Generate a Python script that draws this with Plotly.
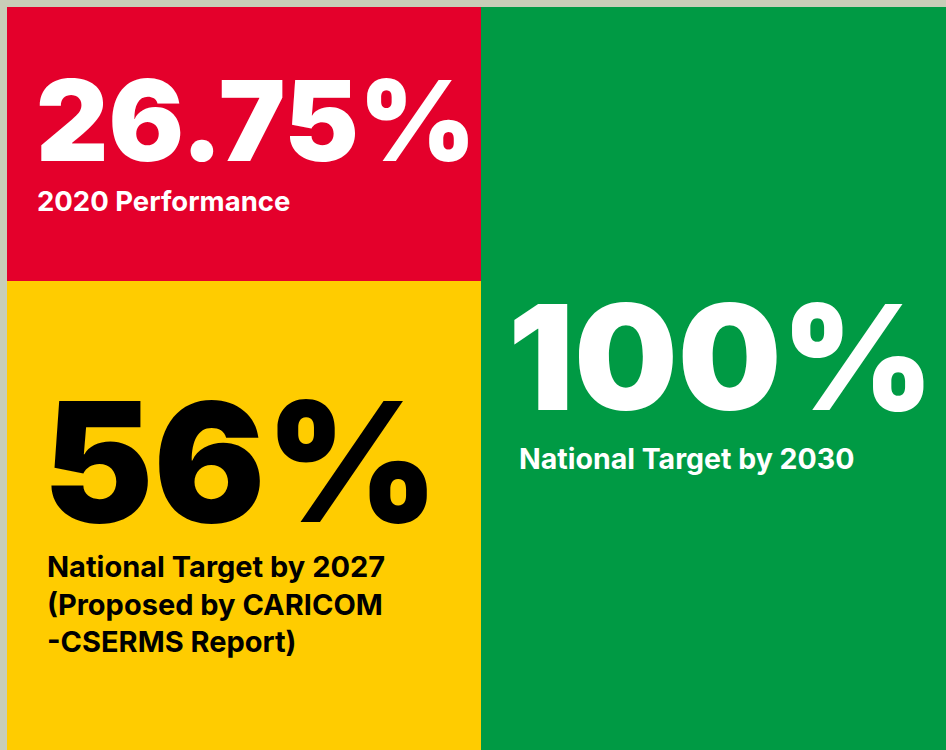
import plotly.graph_objects as go

# Data
values = [26.75, 56, 100]
value_labels = ["26.75%", "56%", "100%"]
captions = [
    "2020 Performance",
    "National Target by 2027<br>(Proposed by CARICOM<br>-CSERMS Report)",
    "National Target by 2030",
]

W, H = 946, 750
RED, YELLOW, GREEN, BG = "#E4002B", "#FFCC00", "#009A44", "#C8CDB8"


def px(x):
    return x / W


def py(y):
    return 1 - y / H


fig = go.Figure()

panels = [
    (7, 7, 481, 281, RED),
    (7, 281, 481, H, YELLOW),
    (481, 7, W, H, GREEN),
]
for x0, y0, x1, y1, c in panels:
    fig.add_shape(type="rect", xref="paper", yref="paper",
                  x0=px(x0), x1=px(x1), y0=py(y1), y1=py(y0),
                  fillcolor=c, line_width=0, layer="below")

FONT = "Inter"
big = [
    dict(text=value_labels[0], x=34, y=120, size=112, color="white"),
    dict(text=value_labels[1], x=41, y=461, size=166, color="black"),
    dict(text=value_labels[2], x=506, y=357, size=146, color="white"),
]
small = [
    dict(text=captions[0], x=35, y=201, size=27.5, color="white"),
    dict(text=captions[1], x=45, y=604, size=29, color="black"),
    dict(text=captions[2], x=517, y=458, size=28.5, color="white"),
]
for a in big:
    fig.add_annotation(xref="paper", yref="paper", x=px(a["x"]), y=py(a["y"]),
                       xanchor="left", yanchor="middle", showarrow=False,
                       text=a["text"],
                       font=dict(family=FONT, size=a["size"], color=a["color"], weight=900))
for a in small:
    fig.add_annotation(xref="paper", yref="paper", x=px(a["x"]), y=py(a["y"]),
                       xanchor="left", yanchor="middle", align="left", showarrow=False,
                       text=a["text"],
                       font=dict(family=FONT, size=a["size"], color=a["color"], weight=700))

fig.update_layout(
    width=W, height=H, margin=dict(l=0, r=0, t=0, b=0),
    paper_bgcolor=BG, plot_bgcolor=BG,
    xaxis=dict(visible=False), yaxis=dict(visible=False),
    showlegend=False,
)

fig.write_html("out.html", config={"displayModeBar": False},
               post_script="document.body.style.margin='0';document.body.style.overflow='hidden';")
